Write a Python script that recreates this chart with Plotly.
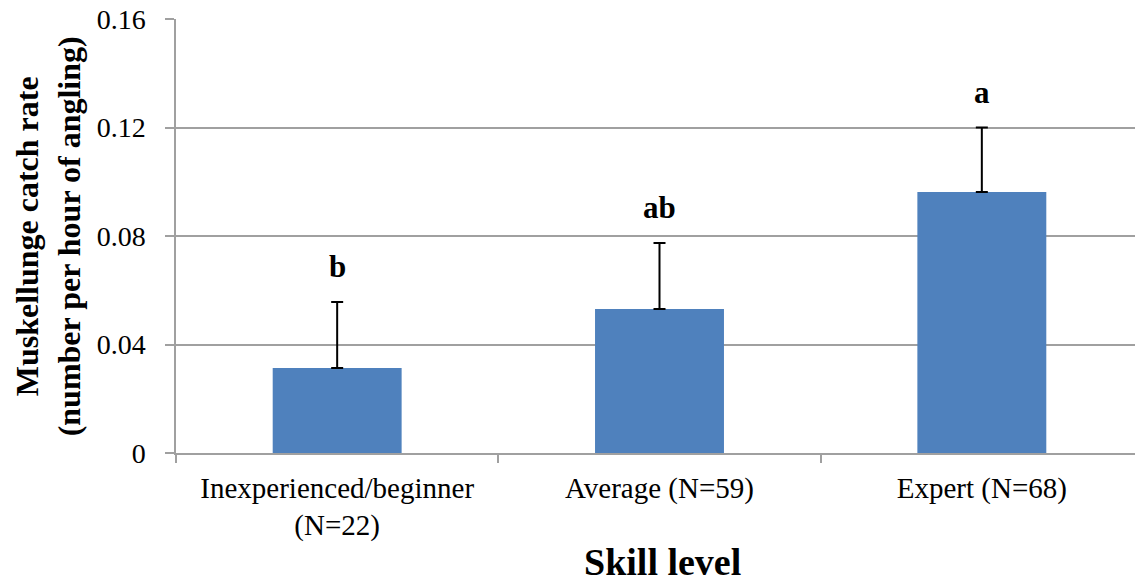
import plotly.graph_objects as go

categories = ["Inexperienced/beginner<br>(N=22)", "Average (N=59)", "Expert (N=68)"]
catch_rate = [0.0313, 0.0531, 0.0962]
se_upper = [0.0244, 0.0243, 0.0238]
sig_letters = ["b", "ab", "a"]
y_ticks = [0, 0.04, 0.08, 0.12, 0.16]
y_tick_labels = ["0", "0.04", "0.08", "0.12", "0.16"]

FONT = "Liberation Serif, Times New Roman, serif"
GRID = "#a0a0a0"

fig = go.Figure()
fig.add_trace(go.Bar(
    x=categories, y=catch_rate, width=0.4,
    marker=dict(color="#4F81BD", line=dict(width=0)),
    error_y=dict(type="data", symmetric=False, array=se_upper,
                 arrayminus=[0] * len(se_upper), color="black",
                 thickness=2, width=6),
))

for c, v, e, s in zip(categories, catch_rate, se_upper, sig_letters):
    fig.add_annotation(x=c, y=v + e + 0.013, text=f"<b>{s}</b>", showarrow=False,
                       font=dict(family=FONT, size=31, color="black"),
                       yanchor="middle")

fig.add_annotation(xref="paper", yref="paper", x=-0.132, y=0.5,
                   text="<b>Muskellunge catch rate<br>(number per hour of angling)</b>",
                   textangle=-90, showarrow=False,
                   font=dict(family=FONT, size=32, color="black"),
                   xanchor="center", yanchor="middle")
fig.add_annotation(xref="paper", yref="paper", x=0.503, y=-0.251,
                   text="<b>Skill level</b>", showarrow=False,
                   font=dict(family=FONT, size=38, color="black"),
                   xanchor="center", yanchor="middle")

fig.update_layout(
    width=1135, height=576,
    margin=dict(l=168, r=0, t=11, b=131, autoexpand=False),
    paper_bgcolor="white", plot_bgcolor="white",
    showlegend=False,
    font=dict(family=FONT, size=29, color="black"),
    bargap=0.6,
)
fig.update_xaxes(
    automargin=False,
    showline=True, linecolor=GRID, linewidth=1.5,
    ticks="outside", tickson="boundaries", ticklen=8, tickcolor=GRID,
    tickwidth=1.5, showgrid=False, ticklabelstandoff=8,
    tickfont=dict(family=FONT, size=29, color="black"),
)
fig.update_yaxes(
    automargin=False,
    range=[0, 0.16], tickvals=y_ticks, ticktext=y_tick_labels,
    showline=True, linecolor=GRID, linewidth=1.5,
    ticks="outside", ticklen=9, tickcolor=GRID, tickwidth=1.5,
    showgrid=True, gridcolor=GRID, gridwidth=1.5,
    zeroline=False, ticklabelstandoff=14, ticklabeloverflow="allow",
    tickfont=dict(family=FONT, size=28, color="black"),
)

fig.write_html("out.html")
